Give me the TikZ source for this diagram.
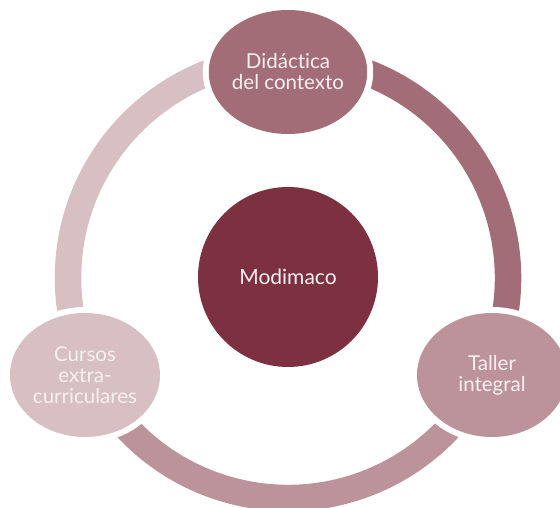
\documentclass[tikz,border=0pt]{standalone}
\usepackage{fontspec}
\setmainfont{Lato}[Ligatures=NoCommon]
\usetikzlibrary{shapes.geometric}
\definecolor{cCenter}{HTML}{7D303F}
\definecolor{cTop}{HTML}{A36D78}
\definecolor{cRight}{HTML}{BD939B}
\definecolor{cLeft}{HTML}{D8BFC4}
\definecolor{txt}{HTML}{F7F0F1}
\begin{document}
\begin{tikzpicture}[x=1pt,y=1pt,
  ring/.style={line width=26.5pt},
  satnode/.style={ellipse, minimum width=150pt, minimum height=124pt, inner sep=0pt,
    text=txt, align=center, font=\fontsize{20.5}{21}\selectfont,
    preaction={draw=white, line width=12pt}},
  hub/.style={circle, minimum size=180pt, inner sep=0pt, fill=cCenter, text=txt,
    font=\fontsize{21}{24}\selectfont}]
\useasboundingbox (0,0) rectangle (560,508);
\clip (0,0) rectangle (560,508);
\coordinate (c) at (288,230);
\draw[ring, cLeft]  (c) ++(90:220pt)  arc[start angle=90,  end angle=206, radius=220pt];
\draw[ring, cTop]   (c) ++(-26:220pt) arc[start angle=-26, end angle=90,  radius=220pt];
\draw[ring, cRight] (c) ++(206:220pt) arc[start angle=206, end angle=334, radius=220pt];
\node[satnode, fill=cTop]   (top)   at (288,436) {Didáctica\\del contexto};
\node[satnode, fill=cRight] (right) at (492,133) {Taller\\integral};
\node[satnode, fill=cLeft]  (left)  at (85,133)  {Cursos\\extra-\\curriculares};
\node[hub] (hubnode) at (288,231) {Modimaco};
\end{tikzpicture}
\end{document}
